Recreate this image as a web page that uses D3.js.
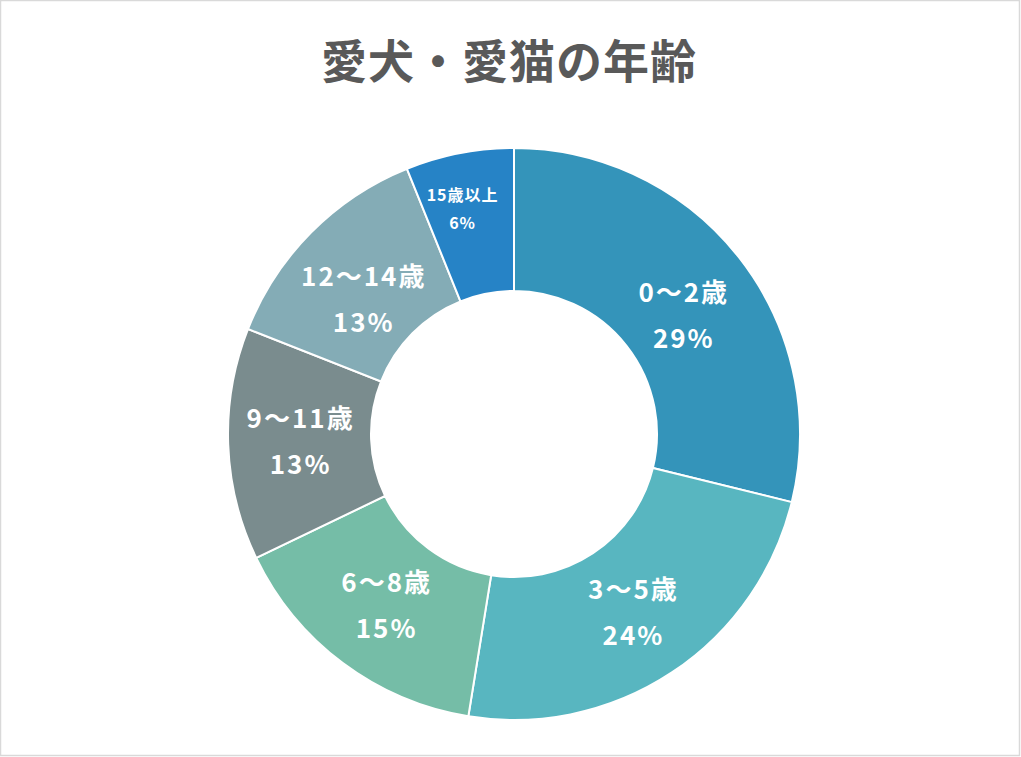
<!DOCTYPE html>
<html><head><meta charset="utf-8">
<script src="https://cdn.jsdelivr.net/npm/d3@7"></script>
<style>
html,body{margin:0;padding:0;background:#fff;}
svg{display:block;}
</style></head>
<body>
<script>
const categories = ["0～2歳","3～5歳","6～8歳","9～11歳","12～14歳","15歳以上"];
const values = [28.8, 23.7, 15.3, 13.1, 12.9, 6.1];
const colors = ["#3494BA","#58B6C0","#75BDA7","#7A8C8E","#84ACB6","#2683C6"];
const title = "愛犬・愛猫の年齢";

const W = 1021, H = 757;
const cx = 514, cy = 434, rOuter = 286, rInner = 143;

const svg = d3.select("body").append("svg").attr("width", W).attr("height", H);
svg.append("rect").attr("x",0.5).attr("y",0.5).attr("width",W-2).attr("height",H-2)
  .attr("fill","#fff").attr("stroke","#d9d9d9").attr("stroke-width",1.5);

svg.append("text").attr("x", 509).attr("y", 78).attr("text-anchor","middle")
  .attr("font-family","'Noto Sans CJK JP','Noto Sans',sans-serif").attr("font-weight","bold")
  .attr("font-size", 46).attr("letter-spacing", 1).attr("fill","#595959").text(title);

const data = categories.map((c,i)=>({cat:c, value:values[i], color:colors[i]}));
const total = d3.sum(values);
const pie = d3.pie().value(d=>d.value).sort(null);
const arc = d3.arc().innerRadius(rInner).outerRadius(rOuter);
const arcs = pie(data);

const g = svg.append("g").attr("transform", `translate(${cx},${cy})`);
g.selectAll("path").data(arcs).join("path")
  .attr("d", arc).attr("fill", d=>d.data.color)
  .attr("stroke","#fff").attr("stroke-width",2);

// small label adjustments (Excel-like label placement)
const nudge = {"0～2歳":[0,14], "12～14歳":[1,17], "15歳以上":[-11,-14]};
const lab = g.selectAll("g.lab").data(arcs).join("g").attr("class","lab")
  .attr("transform", d=>{
    const c = arc.centroid(d); const n = nudge[d.data.cat]||[0,0];
    return `translate(${c[0]+n[0]},${c[1]+n[1]})`;
  });
lab.each(function(d){
  const small = (d.endAngle - d.startAngle) < 0.5;
  const fs = small ? 16 : 26;
  const gap = small ? 28 : 46;
  const ls = small ? 1 : 2;
  const sel = d3.select(this);
  const pct = Math.round(d.data.value/total*100) + "%";
  [d.data.cat, pct].forEach((t,k)=>{
    sel.append("text").attr("x", ls/2).attr("y", (k===0?-gap/2:gap/2))
      .attr("dy","0.35em").attr("text-anchor","middle")
      .attr("font-family","'Noto Sans CJK JP','Noto Sans',sans-serif")
      .attr("font-weight", "bold").attr("font-size", fs).attr("letter-spacing", ls)
      .attr("fill","#fff").text(t);
  });
});
</script>
</body></html>
